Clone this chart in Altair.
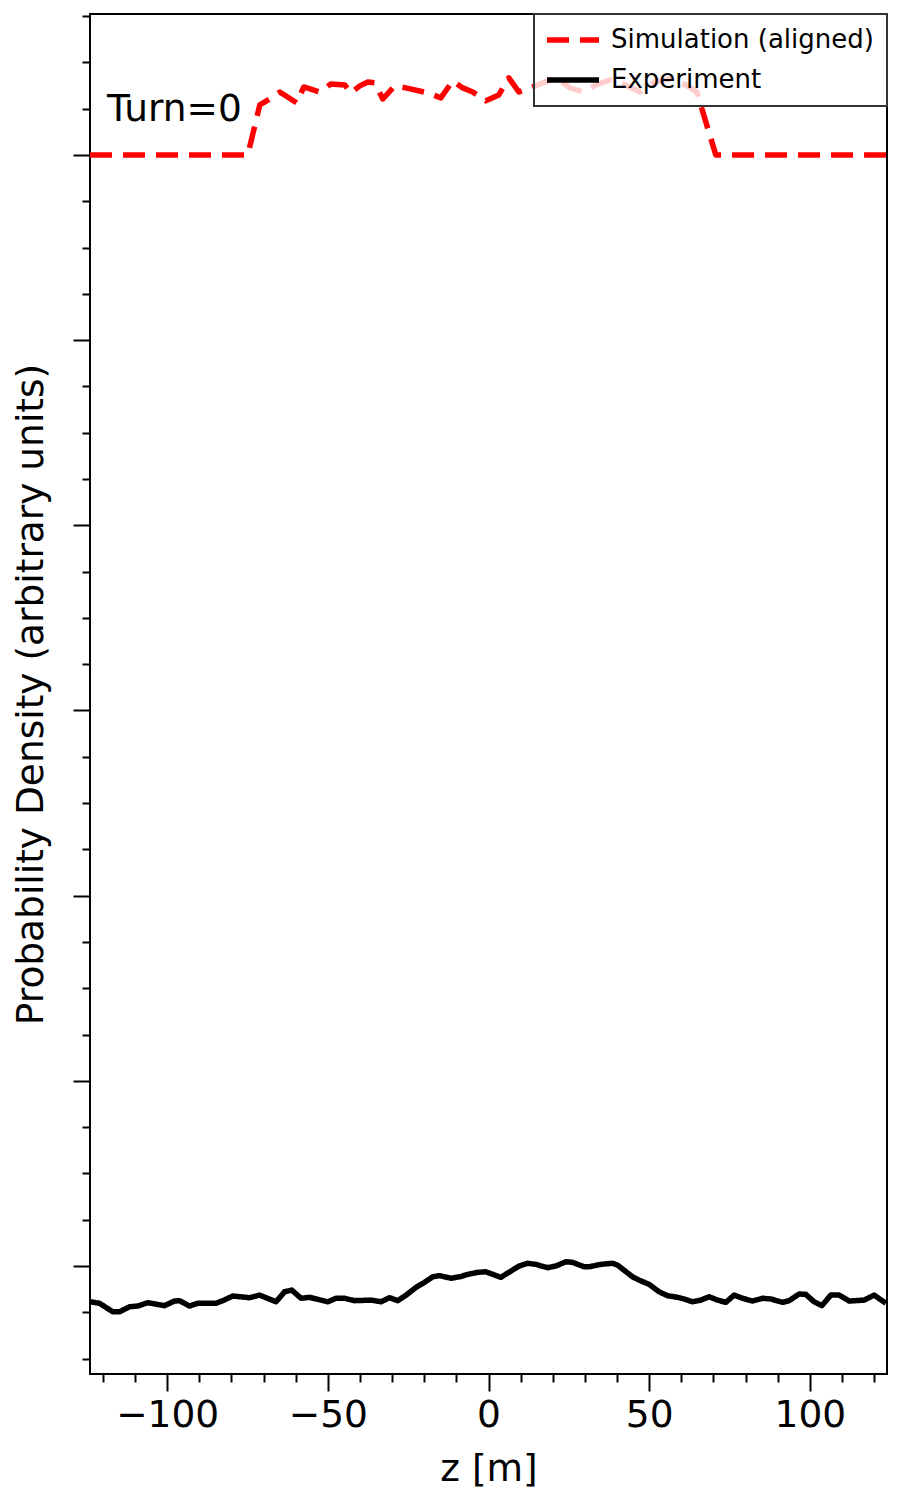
import altair as alt
import pandas as pd

# ---- data (z in m, density in arbitrary units) ----
series_names = ["Simulation (aligned)", "Experiment"]

sim_z = [-124.0, -74.90, -71.17, -68.06, -64.95, -59.65, -57.48, -52.50, -49.07, -44.72,
         -42.85, -40.05, -37.56, -35.38, -32.89, -29.16, -25.74, -18.89, -14.84, -11.11,
         -8.00, -4.89, -0.84, 3.21, 6.32, 9.43, 13.79, 17.52, 21.25, 25.30,
         29.66, 33.39, 37.75, 42.73, 47.08, 51.75, 56.42, 61.40, 64.82, 70.73, 123.95]
sim_y = [6.000, 6.000, 6.270, 6.302, 6.340, 6.281, 6.367, 6.340, 6.383, 6.378,
         6.335, 6.373, 6.394, 6.389, 6.302, 6.373, 6.362, 6.335, 6.308, 6.400,
         6.362, 6.340, 6.292, 6.324, 6.416, 6.340, 6.367, 6.394, 6.416, 6.362,
         6.340, 6.378, 6.405, 6.378, 6.340, 6.394, 6.410, 6.378, 6.340, 6.000, 6.000]

exp_z = [-124.0, -121.05, -116.91, -114.83, -111.72, -109.13, -106.02, -100.83, -97.71, -96.16,
         -93.05, -90.46, -84.77, -82.68, -79.57, -74.37, -71.26, -66.10, -63.48, -61.21,
         -58.32, -55.70, -50.01, -47.43, -44.81, -41.70, -36.53, -33.42, -30.81, -28.22,
         -25.64, -22.53, -19.92, -17.33, -15.25, -11.64, -9.02, -5.91, -3.33, -0.84,
         3.83, 9.52, 12.14, 14.72, 18.36, 20.94, 24.05, 26.14, 29.75, 31.31,
         34.95, 38.59, 40.14, 44.81, 46.86, 49.98, 53.09, 55.70, 58.81, 60.87,
         63.48, 66.06, 68.65, 71.26, 73.85, 76.43, 79.04, 82.15, 85.27, 87.85,
         91.49, 93.54, 96.66, 98.74, 101.32, 103.72, 106.52, 109.10, 112.22, 116.88,
         120.00, 123.64]
exp_y = [-0.193, -0.201, -0.247, -0.247, -0.220, -0.216, -0.198, -0.214, -0.189, -0.187,
         -0.216, -0.201, -0.201, -0.187, -0.162, -0.171, -0.157, -0.193, -0.139, -0.130,
         -0.174, -0.169, -0.193, -0.174, -0.174, -0.187, -0.184, -0.193, -0.171, -0.187,
         -0.157, -0.115, -0.088, -0.058, -0.052, -0.066, -0.058, -0.043, -0.034, -0.031,
         -0.061, 0.000, 0.015, 0.009, -0.009, 0.000, 0.023, 0.020, -0.004, -0.004,
         0.009, 0.015, 0.005, -0.058, -0.076, -0.099, -0.139, -0.160, -0.169, -0.178,
         -0.193, -0.184, -0.166, -0.184, -0.196, -0.157, -0.174, -0.189, -0.174, -0.178,
         -0.196, -0.187, -0.151, -0.153, -0.193, -0.214, -0.157, -0.157, -0.189, -0.184,
         -0.157, -0.201]

annotation = ["Turn=0"]

x_domain = [-124, 124]
y_domain = [-0.583, 6.761]
x_major = [-100, -50, 0, 50, 100]
x_minor = [v for v in range(-120, 121, 10) if v % 50 != 0]
y_major = [0, 1, 2, 3, 4, 5, 6]
y_minor = [i / 4 for i in range(-2, 28) if i % 4 != 0]

df = pd.concat([
    pd.DataFrame({"series": series_names[0], "z": sim_z, "y": sim_y}),
    pd.DataFrame({"series": series_names[1], "z": exp_z, "y": exp_y}),
], ignore_index=True)

FONT = "DejaVu Sans"
BIG = 37.5

x_scale = alt.Scale(domain=x_domain, nice=False, zero=False)
y_scale = alt.Scale(domain=y_domain, nice=False, zero=False)

x_axis_major = alt.Axis(values=x_major, orient="bottom", grid=False, domain=False,
                        tickSize=17, tickWidth=2, tickColor="black",
                        labelFont=FONT, labelFontSize=BIG, labelColor="black",
                        labelBaseline="alphabetic", labelPadding=35, labelFlush=False,
                        title="z [m]", titleFont=FONT, titleFontSize=BIG,
                        titleFontWeight="normal", titleColor="black",
                        titleBaseline="alphabetic", titleAlign="center",
                        titleX=398.5, titleY=106)
y_axis_major = alt.Axis(values=y_major, orient="left", grid=False, domain=False,
                        labels=False, tickSize=17, tickWidth=2, tickColor="black",
                        title="Probability Density (arbitrary units)", titleFont=FONT,
                        titleFontSize=BIG, titleFontWeight="normal", titleColor="black",
                        titleAngle=270, titleBaseline="alphabetic", titleAlign="center",
                        titleX=-48, titleY=680)
x_axis_minor = alt.Axis(values=x_minor, orient="bottom", grid=False, domain=False,
                        labels=False, tickSize=8, tickWidth=2, tickColor="black", title="")
y_axis_minor = alt.Axis(values=y_minor, orient="left", grid=False, domain=False,
                        labels=False, tickSize=8, tickWidth=2, tickColor="black", title="")

lines = alt.Chart(df).mark_line(strokeWidth=5.5, strokeJoin="round", strokeCap="butt", clip=True).encode(
    x=alt.X("z:Q", scale=x_scale, axis=x_axis_major),
    y=alt.Y("y:Q", scale=y_scale, axis=y_axis_major),
    color=alt.Color("series:N", scale=alt.Scale(domain=series_names, range=["#ff0000", "#000000"]),
                    legend=alt.Legend(title=None)),
    strokeDash=alt.StrokeDash("series:N", scale=alt.Scale(domain=series_names, range=[[22, 11], [1, 0]]),
                              legend=alt.Legend(title=None)),
)

minor = alt.Chart(df).mark_line(strokeOpacity=0, clip=True).encode(
    x=alt.X("z:Q", scale=x_scale, axis=x_axis_minor),
    y=alt.Y("y:Q", scale=y_scale, axis=y_axis_minor),
    detail="series:N",
)

label = alt.Chart(pd.DataFrame({"text": annotation})).mark_text(
    align="left", baseline="alphabetic", font=FONT, fontSize=BIG, color="black"
).encode(x=alt.value(17), y=alt.value(107), text="text:N")

chart = alt.layer(lines, minor, label).resolve_axis(
    x="independent", y="independent"
).properties(
    width=797, height=1360,
    autosize=alt.AutoSizeParams(type="none"),
    padding={"left": 90, "top": 14, "right": 13, "bottom": 126},
    background="white",
).configure_view(
    stroke="black", strokeWidth=2
).configure_legend(
    orient="top-right", offset=0, padding=13, rowPadding=14,
    fillColor="rgba(255,255,255,0.8)", strokeColor="#333333", strokeWidth=2,
    labelFont=FONT, labelFontSize=26, labelColor="black", labelLimit=500, labelOffset=25,
    symbolType="M-2.6,0H2.6", symbolSize=400, symbolStrokeWidth=5.5, symbolOffset=13,
)

chart.save("out.html", embed_options={"renderer": "svg", "actions": False})
